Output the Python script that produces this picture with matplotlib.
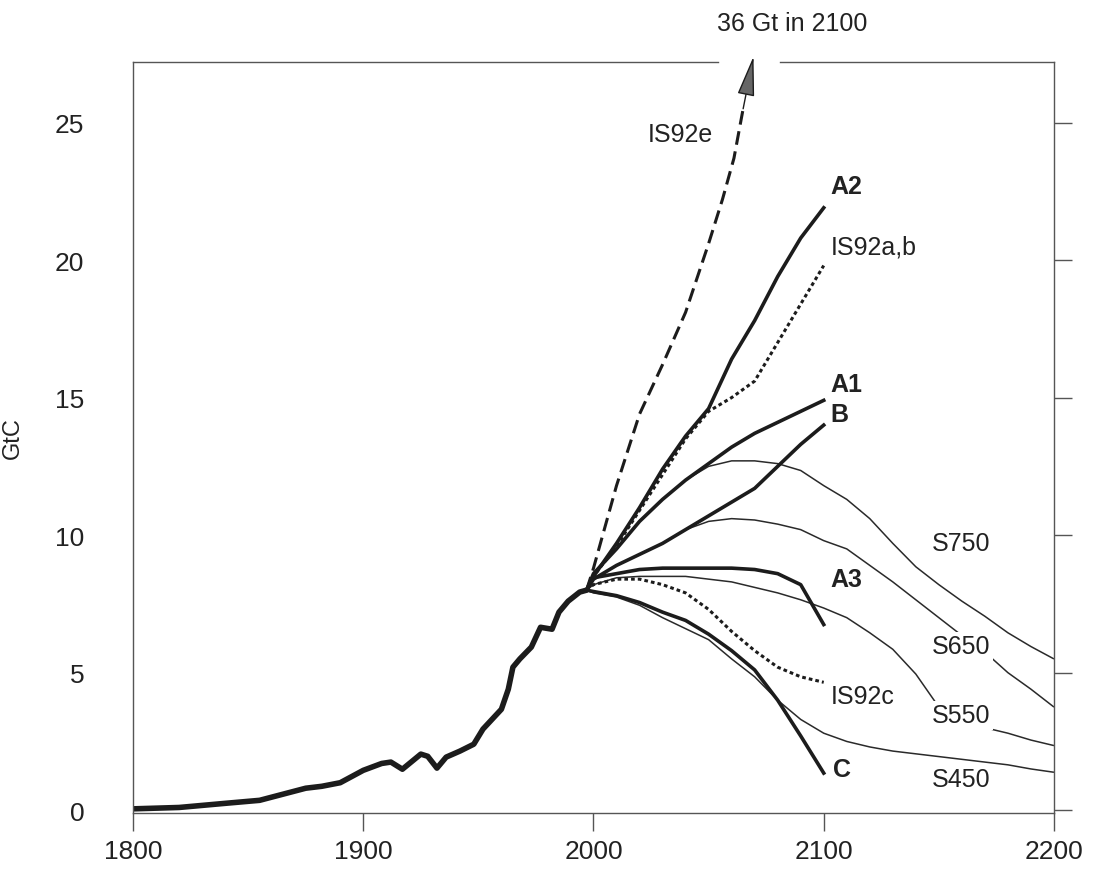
import matplotlib
matplotlib.use("Agg")
import matplotlib.pyplot as plt
from matplotlib.lines import Line2D

plt.rcParams['font.family'] = ['Liberation Sans', 'DejaVu Sans']

# Historical emissions (GtC)
hist_years = [1800, 1820, 1840, 1855, 1865, 1875, 1882, 1890, 1900, 1908, 1912,
              1917, 1925, 1928, 1932, 1936, 1942, 1948, 1952, 1960, 1963, 1965,
              1968, 1973, 1977, 1982, 1985, 1989, 1994, 1997]
hist_vals = [0.05, 0.1, 0.25, 0.36, 0.58, 0.8, 0.87, 1.0, 1.45, 1.7, 1.75,
             1.49, 2.04, 1.96, 1.53, 1.93, 2.15, 2.4, 2.95, 3.67, 4.4, 5.2,
             5.5, 5.93, 6.65, 6.58, 7.2, 7.6, 7.93, 8.0]

# scenarios to 2100
yrs_2100 = [1997, 2000, 2010, 2020, 2030, 2040, 2050, 2060, 2070, 2080, 2090, 2100]
a2 = [8.0, 8.5, 9.7, 11.0, 12.4, 13.6, 14.6, 16.4, 17.8, 19.4, 20.8, 21.9]
is92ab = [8.0, 8.5, 9.6, 10.9, 12.2, 13.5, 14.5, 15.0, 15.6, 17.0, 18.4, 19.8]
a1 = [8.0, 8.6, 9.5, 10.5, 11.3, 12.0, 12.6, 13.2, 13.7, 14.1, 14.5, 14.9]
b = [8.0, 8.4, 8.9, 9.3, 9.7, 10.2, 10.7, 11.2, 11.7, 12.5, 13.3, 14.0]
a3 = [8.0, 8.45, 8.6, 8.75, 8.8, 8.8, 8.8, 8.8, 8.75, 8.6, 8.2, 6.75]
is92c = [8.0, 8.2, 8.4, 8.4, 8.2, 7.9, 7.3, 6.5, 5.8, 5.2, 4.85, 4.65]
c = [8.0, 7.95, 7.8, 7.55, 7.2, 6.9, 6.4, 5.8, 5.1, 4.0, 2.7, 1.35]

is92e_years = [1997, 2000, 2010, 2020, 2030, 2040, 2050, 2056, 2061, 2065]
is92e = [8.0, 8.8, 11.8, 14.4, 16.2, 18.1, 20.6, 22.2, 23.7, 25.5]
is92e_tip = (2069.5, 27.4)

# stabilisation profiles to 2200
yrs_2200 = [1997, 2000, 2010, 2020, 2030, 2040, 2050, 2060, 2070, 2080, 2090,
            2100, 2110, 2120, 2130, 2140, 2150, 2160, 2170, 2180, 2190, 2200]
s750 = [8.0, 8.6, 9.5, 10.5, 11.3, 12.0, 12.5, 12.7, 12.7, 12.6, 12.35,
        11.8, 11.3, 10.6, 9.7, 8.85, 8.2, 7.6, 7.05, 6.45, 5.95, 5.5]
s650 = [8.0, 8.4, 8.9, 9.3, 9.7, 10.2, 10.5, 10.6, 10.55, 10.4, 10.2,
        9.8, 9.5, 8.9, 8.3, 7.65, 7.0, 6.35, 5.75, 5.0, 4.4, 3.75]
s550 = [8.0, 8.2, 8.45, 8.5, 8.5, 8.5, 8.4, 8.3, 8.1, 7.9, 7.65,
        7.35, 7.0, 6.45, 5.85, 4.95, 3.75, 3.25, 3.0, 2.8, 2.55, 2.35]
s450 = [8.0, 7.9, 7.75, 7.45, 7.0, 6.6, 6.2, 5.5, 4.85, 4.0, 3.3,
        2.8, 2.5, 2.3, 2.15, 2.05, 1.95, 1.85, 1.75, 1.65, 1.5, 1.38]

dark = '#1c1c1c'
grey = '#555555'

fig = plt.figure(figsize=(10.94, 8.70), dpi=100)
ax = fig.add_axes([0.1216, 0.0644, 0.8418, 0.8632])

# thin stabilisation curves first
for vals in [s750, s650, s550, s450]:
    ax.plot(yrs_2200, vals, color='#2a2a2a', lw=1.1, solid_capstyle='butt',
            solid_joinstyle='round')

for vals in [a2, a1, b, a3, c]:
    ax.plot(yrs_2100, vals, color=dark, lw=2.6, solid_joinstyle='round')
ax.plot(yrs_2100, is92ab, color=dark, lw=2.2, linestyle=(0, (1.2, 1.0)))
ax.plot(yrs_2100, is92c, color=dark, lw=2.2, linestyle=(0, (1.2, 1.0)))
ax.plot(is92e_years, is92e, color=dark, lw=2.2, linestyle=(0, (4.5, 2.2)))
ax.annotate('', xy=is92e_tip, xytext=(is92e_years[-1], is92e[-1]),
            annotation_clip=False,
            arrowprops=dict(arrowstyle='-|>,head_length=1.4,head_width=0.3',
                            color=dark, fc='#666666', lw=1.0,
                            shrinkA=0, shrinkB=0, mutation_scale=18))

ax.plot(hist_years, hist_vals, color=dark, lw=4.0, solid_joinstyle='round',
        solid_capstyle='butt')

# labels
txt = dict(fontsize=18, color='#222222', va='center')
ax.text(2037.8, 24.6, 'IS92e', ha='center', **txt)
ax.text(2103, 22.7, 'A2', ha='left', fontweight='bold', **txt)
ax.text(2103, 20.5, 'IS92a,b', ha='left', **txt)
ax.text(2103, 15.5, 'A1', ha='left', fontweight='bold', **txt)
ax.text(2103, 14.4, 'B', ha='left', fontweight='bold', **txt)
ax.text(2103, 8.4, 'A3', ha='left', fontweight='bold', **txt)
ax.text(2103, 4.15, 'IS92c', ha='left', **txt)
ax.text(2104, 1.5, 'C', ha='left', fontweight='bold', **txt)
ax.text(2159.6, 9.7, 'S750', ha='center', **txt)
ax.text(2159.6, 5.96, 'S650', ha='center',
        bbox=dict(fc='white', ec='none', pad=2), **txt)
ax.text(2159.6, 3.45, 'S550', ha='center',
        bbox=dict(fc='white', ec='none', pad=2), **txt)
ax.text(2159.6, 1.13, 'S450', ha='center', **txt)
ax.text(2086.5, 28.6, '36 Gt in 2100', ha='center', clip_on=False, **txt)

ax.set_xlim(1800, 2200)
ax.set_ylim(-0.1, 27.2)
ax.set_xticks([1800, 1900, 2000, 2100, 2200])
ax.set_yticks([0, 5, 10, 15, 20, 25])
ax.tick_params(axis='x', direction='out', length=13, width=1, color=grey,
               labelsize=19, pad=6, labelcolor='#222222')
ax.tick_params(axis='y', left=False, right=True, labelleft=True, direction='out',
               length=13, width=1, color=grey, labelsize=19, pad=22,
               labelcolor='#222222')
ax.set_ylabel('GtC', fontsize=17, color='#222222')
ax.yaxis.set_label_coords(-0.118, 0.5)

for side in ['left', 'right', 'bottom']:
    ax.spines[side].set_color(grey)
    ax.spines[side].set_linewidth(1.0)
ax.spines['top'].set_visible(False)
# top frame is broken where the IS92e arrow passes
for x0, x1 in [(0.0, 0.635), (0.7025, 1.0)]:
    ax.add_line(Line2D([x0, x1], [1, 1], transform=ax.transAxes, color=grey,
                       lw=1.0, clip_on=False))

fig.savefig('out.png', dpi=100)
